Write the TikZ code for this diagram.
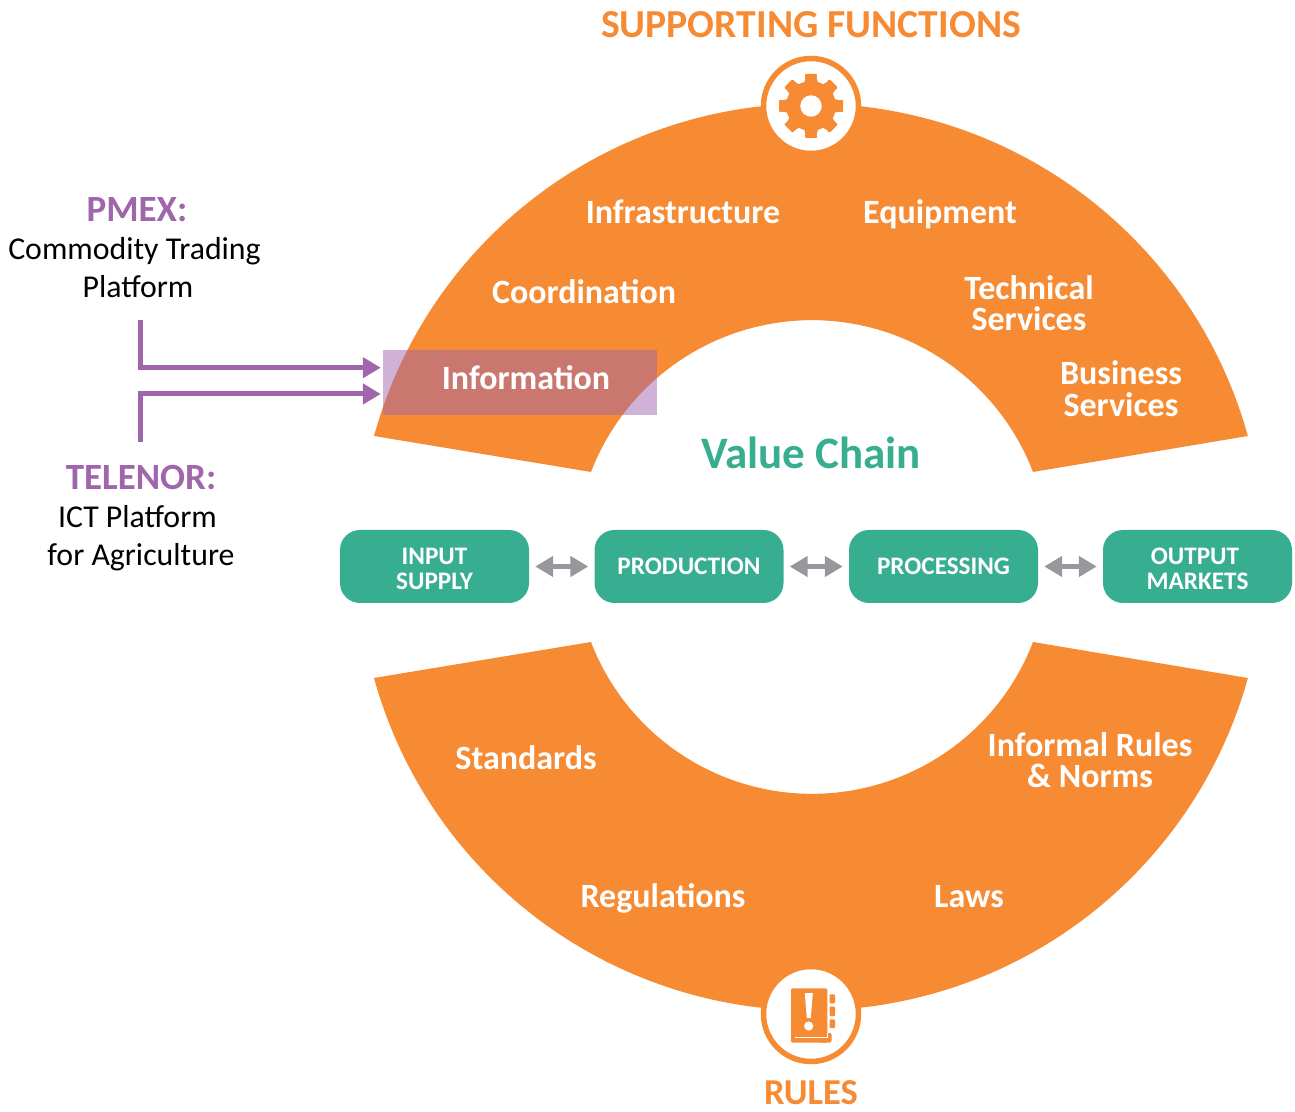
\documentclass[tikz,border=0pt]{standalone}
\usepackage{fontspec}
\setmainfont{Carlito}
\usetikzlibrary{arrows.meta,calc}
\definecolor{orng}{HTML}{F68B33}
\definecolor{purp}{HTML}{A066AC}
\definecolor{teal2}{HTML}{38AE91}
\definecolor{gry}{HTML}{97979C}
\tikzset{
  x=1pt,y=1pt,
  band/.style={fill=orng,draw=none},
  bandtext/.style={text=white,font=\bfseries\fontsize{34}{31.5}\selectfont,align=center,inner sep=0pt},
  chainbox/.style={fill=teal2,rounded corners=20pt,minimum width=189pt,minimum height=73pt,inner sep=0pt,text=white,align=center,font=\bfseries\fontsize{25.2}{25}\selectfont},
  twoway/.style={draw=gry,line width=5pt,{Triangle[length=18pt,width=20pt]}-{Triangle[length=18pt,width=20pt]},shorten >=6pt,shorten <=6pt},
  feed/.style={draw=purp,line width=5pt,line join=miter,-{Triangle[length=18pt,width=20pt]}},
  purptitle/.style={text=purp,font=\bfseries\fontsize{37}{37}\selectfont,inner sep=0pt},
  bodytext/.style={text=black,font=\fontsize{31.8}{38}\selectfont,align=center,inner sep=0pt},
  heading/.style={text=orng,font=\bfseries\fontsize{39.7}{40}\selectfont,inner sep=0pt},
  ringbadge/.style={circle,fill=white,draw=orng,line width=5.5pt,minimum size=95pt,inner sep=0pt}
}
\begin{document}
\begin{tikzpicture}
\useasboundingbox (0,0) rectangle (1295,1111);
% bands
\fill[band] (374,675) arc[start angle=164.52,end angle=15.48,radius=453.4] -- (1033,639) arc[start angle=21.04,end angle=158.96,radius=236.8] -- cycle;
\fill[band] (374,433) arc[start angle=195.48,end angle=344.52,radius=453.4] -- (1033,469) arc[start angle=338.96,end angle=201.04,radius=236.8] -- cycle;
% badges
\node[ringbadge] (topbadge) at (811,1005) {};
\node[ringbadge] (botbadge) at (811,97) {};
% gear
\begin{scope}[shift={(topbadge.center)}]
  \fill[orng] (0,0) circle[radius=25];
  \foreach \a in {0,45,...,315}{
    \fill[orng,rotate=\a,rounded corners=1.5pt] (-6.5,15) rectangle (6.5,32);
  }
  \foreach \a in {22.5,67.5,...,337.5}{
    \fill[white,rotate=\a] (0,31) circle[radius=6];
  }
  \fill[white] (0,0) circle[radius=10.7];
\end{scope}
% book
\fill[orng,rounded corners=2pt] (791,122.7) rectangle (827.3,68.3);
\fill[orng,rounded corners=1.5pt] (827.3,78) -- (831.5,78) -- (831.5,68.3) -- (820,68.3) -- cycle;
\draw[white,line width=1.3pt] (795,73.5) -- (827.5,73.5) -- (827.5,78);
\foreach \ya/\yb in {116.7/107.7,104.3/95,91.7/83}{
  \fill[orng,rounded corners=1pt] (829.5,\ya) rectangle (835,\yb);
}
\fill[white] (804.8,117.8) -- (812.8,117.8) -- (810.8,93) -- (806.8,93) -- cycle;
\fill[white] (808.7,85) circle[radius=4.6];
% overlay
\node[fill=purp,fill opacity=.5,draw=none,minimum width=274pt,minimum height=65pt,inner sep=0pt] (infobox) at (520,728.5) {};
% band texts
\node[bandtext] (t1) at (683,899) {Infrastructure};
\node[bandtext] (t2) at (940,896.5) {Equipment};
\node[bandtext] (t3) at (584,819) {Coordination};
\node[bandtext] (t4) at (1029,808) {Technical\\Services};
\node[bandtext] (t5) at (1121,722.5) {Business\\Services};
\node[bandtext] (t6) at (526,733) {Information};
\node[bandtext] (t7) at (526,353) {Standards};
\node[bandtext] (t8) at (1090,351) {Informal Rules\\\& Norms};
\node[bandtext] (t9) at (663,213) {Regulations};
\node[bandtext] (t10) at (969,214.5) {Laws};
% headings
\node[heading] (hsup) at (811,1086) {SUPPORTING FUNCTIONS};
\node[heading,font=\bfseries\fontsize{36.5}{37}\selectfont] (hrul) at (811,18) {RULES};
\node[text=teal2,font=\bfseries\fontsize{45}{45}\selectfont,inner sep=0pt] (vc) at (811,658) {Value Chain};
% chain
\node[chainbox] (b1) at (434.5,544.5) {\\[-3pt]INPUT\\SUPPLY};
\node[chainbox] (b2) at (689,544.5) {PRODUCTION};
\node[chainbox] (b3) at (943.5,544.5) {PROCESSING};
\node[chainbox] (b4) at (1197.5,544.5) {\\[-3pt]OUTPUT\hspace{5pt}\mbox{}\\MARKETS};
\draw[twoway] (b1) -- (b2);
\draw[twoway] (b2) -- (b3);
\draw[twoway] (b3) -- (b4);
% left labels
\node[purptitle] (pmex) at (137,901) {PMEX:};
\node[bodytext] (pmext) at (134.5,843) {Commodity Trading\\\mbox{}\hspace*{7pt}Platform};
\node[purptitle] (tel) at (141,633) {TELENOR:};
\node[bodytext] (telt) at (141,573) {ICT Platform\hspace{7pt}\mbox{}\\for Agriculture};
\coordinate (pstart) at (140,791);
\coordinate (tstart) at (140,669);
\draw[feed] (pstart) |- ([xshift=-2pt,yshift=14.8pt]infobox.west);
\draw[feed] (tstart) |- ([xshift=-2pt,yshift=-11.5pt]infobox.west);
\end{tikzpicture}
\end{document}
